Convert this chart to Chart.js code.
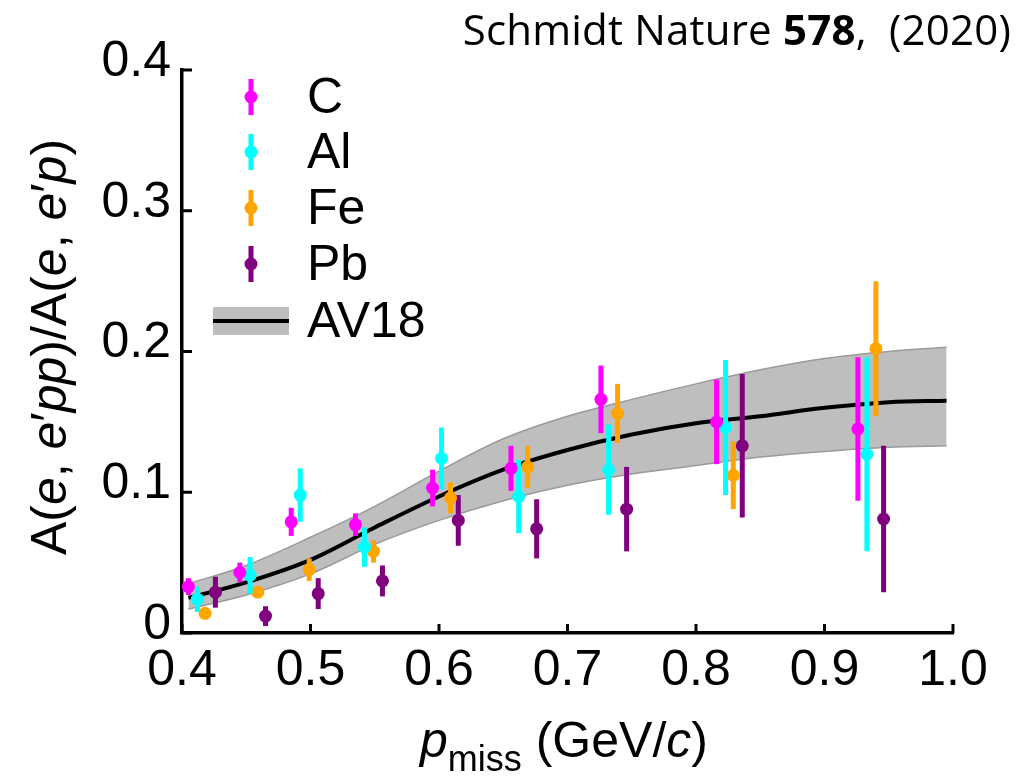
<!DOCTYPE html>
<html>
<head>
<meta charset="utf-8">
<script src="https://cdn.jsdelivr.net/npm/chart.js@4.4.1/dist/chart.umd.min.js"></script>
<style>
  html, body { margin: 0; padding: 0; background: #fff; }
  #wrap { position: relative; width: 1027px; height: 781px; }
  #cite {
    position: absolute; right: 16px; top: 0px;
    font-family: "Open Sans", sans-serif; font-size: 42px; color: #000;
    white-space: pre; letter-spacing: 0.2px;
  }
</style>
</head>
<body>
<div id="wrap">
  <canvas id="chartCanvas"></canvas>
  <div id="cite">Schmidt Nature <b>578</b>,  (2020)</div>
</div>
<script>
// values (p_miss in GeV/c, ratio pp/p)
const cX   = [0.405, 0.445, 0.485, 0.535, 0.595, 0.656, 0.726, 0.816, 0.926];
const cY   = [0.033, 0.043, 0.079, 0.077, 0.103, 0.117, 0.166, 0.150, 0.145];
const cErr = [0.006, 0.007, 0.010, 0.008, 0.013, 0.016, 0.024, 0.030, 0.051];

const alX   = [0.412, 0.453, 0.492, 0.542, 0.602, 0.662, 0.732, 0.823, 0.933];
const alY   = [0.024, 0.041, 0.098, 0.061, 0.124, 0.097, 0.116, 0.146, 0.127];
const alErr = [0.009, 0.013, 0.019, 0.014, 0.022, 0.026, 0.032, 0.048, 0.069];

const feX   = [0.418, 0.459, 0.499, 0.549, 0.609, 0.669, 0.739, 0.829, 0.940];
const feY   = [0.014, 0.029, 0.045, 0.058, 0.096, 0.118, 0.156, 0.112, 0.202];
const feErr = [0.003, 0.004, 0.008, 0.008, 0.011, 0.015, 0.021, 0.024, 0.048];

const pbX   = [0.426, 0.465, 0.506, 0.556, 0.615, 0.676, 0.746, 0.836, 0.946];
const pbY   = [0.029, 0.012, 0.028, 0.037, 0.080, 0.074, 0.088, 0.133, 0.081];
const pbErr = [0.011, 0.007, 0.011, 0.011, 0.018, 0.021, 0.030, 0.051, 0.052];

// AV18 calculation: central line and band
const av18X     = [0.405, 0.45, 0.50, 0.55, 0.60, 0.65, 0.70, 0.75, 0.80, 0.85, 0.90, 0.95, 0.995];
const av18Line  = [0.025, 0.036, 0.052, 0.075, 0.097, 0.116, 0.130, 0.141, 0.149, 0.154, 0.160, 0.164, 0.165];
const av18Upper = [0.035, 0.048, 0.068, 0.090, 0.115, 0.138, 0.154, 0.166, 0.177, 0.187, 0.195, 0.200, 0.203];
const av18Lower = [0.017, 0.027, 0.042, 0.063, 0.080, 0.094, 0.105, 0.113, 0.119, 0.125, 0.129, 0.132, 0.133];

const xTicks = [0.4, 0.5, 0.6, 0.7, 0.8, 0.9, 1.0];
const xTickLabels = ["0.4", "0.5", "0.6", "0.7", "0.8", "0.9", "1.0"];
const yTicks = [0, 0.1, 0.2, 0.3, 0.4];
const yTickLabels = ["0", "0.1", "0.2", "0.3", "0.4"];

const seriesNames = ["C", "Al", "Fe", "Pb"];
const seriesColors = ["#ff00ff", "#00ffff", "#ffa500", "#800080"];

const FONT = "'Liberation Sans', Arial, sans-serif";

const pts = (xs, ys) => xs.map((x, i) => ({ x: x, y: ys[i] }));

function pointSet(name, color, xs, ys, errs) {
  return {
    label: name,
    data: pts(xs, ys),
    errors: errs,
    showLine: false,
    pointRadius: 6.5,
    pointBackgroundColor: color,
    pointBorderWidth: 0,
    borderColor: color,
    order: 1,
  };
}

// error bars, drawn just under each series' markers
const errorBars = {
  id: "errorBars",
  beforeDatasetDraw(chart, args) {
    const ds = chart.data.datasets[args.index];
    if (!ds.errors) return;
    const ctx = chart.ctx;
    const ys = chart.scales.y;
    ctx.save();
    ctx.strokeStyle = ds.borderColor;
    ctx.lineWidth = 5;
    args.meta.data.forEach((el, i) => {
      const v = ds.data[i].y, e = ds.errors[i];
      ctx.beginPath();
      ctx.moveTo(el.x, ys.getPixelForValue(v - e));
      ctx.lineTo(el.x, ys.getPixelForValue(v + e));
      ctx.stroke();
    });
    ctx.restore();
  },
};

// inward tick marks, axis titles and legend
const decorations = {
  id: "decorations",
  afterDraw(chart) {
    const ctx = chart.ctx;
    const xs = chart.scales.x, ys = chart.scales.y;
    const area = chart.chartArea;
    ctx.save();
    ctx.strokeStyle = "#000";
    ctx.lineWidth = 3;
    xTicks.forEach(v => {
      const px = xs.getPixelForValue(v);
      ctx.beginPath();
      ctx.moveTo(px, area.bottom);
      ctx.lineTo(px, area.bottom - 9);
      ctx.stroke();
    });
    yTicks.forEach(v => {
      const py = ys.getPixelForValue(v);
      ctx.beginPath();
      ctx.moveTo(area.left, py);
      ctx.lineTo(area.left + 10, py);
      ctx.stroke();
    });

    ctx.fillStyle = "#000";
    ctx.textBaseline = "alphabetic";

    // y title, mixed upright / italic
    const yParts = [
      ["A(", false], ["e", true], [", ", false], ["e", true], ["\u2032", false], ["pp", true],
      [")/A(", false], ["e", true], [", ", false], ["e", true], ["\u2032", false], ["p", true], [")", false],
    ];
    const fontFor = it => (it ? "italic " : "") + "50px " + FONT;
    let total = 0;
    yParts.forEach(p => { ctx.font = fontFor(p[1]); total += ctx.measureText(p[0]).width; });
    ctx.save();
    ctx.translate(66, 347);
    ctx.rotate(-Math.PI / 2);
    let cx = -total / 2;
    yParts.forEach(p => {
      ctx.font = fontFor(p[1]);
      ctx.fillText(p[0], cx, 0);
      cx += ctx.measureText(p[0]).width;
    });
    ctx.restore();

    // x title: p_miss (GeV/c)
    const xParts = [
      ["p", "italic 50px " + FONT, 0], ["miss", "36px " + FONT, 14],
      [" (GeV/", "50px " + FONT, 0], ["c", "italic 50px " + FONT, 0], [")", "50px " + FONT, 0],
    ];
    total = 0;
    xParts.forEach(p => { ctx.font = p[1]; total += ctx.measureText(p[0]).width; });
    cx = 564 - total / 2;
    xParts.forEach(p => {
      ctx.font = p[1];
      ctx.fillText(p[0], cx, 757 + p[2]);
      cx += ctx.measureText(p[0]).width;
    });

    // legend
    const rowY = [97, 152, 208, 264];
    seriesNames.forEach((name, i) => {
      const y = rowY[i];
      ctx.strokeStyle = seriesColors[i];
      ctx.lineWidth = 5;
      ctx.beginPath();
      ctx.moveTo(251, y - 18);
      ctx.lineTo(251, y + 18);
      ctx.stroke();
      ctx.fillStyle = seriesColors[i];
      ctx.beginPath();
      ctx.arc(251, y, 6.5, 0, Math.PI * 2);
      ctx.fill();
      ctx.fillStyle = "#000";
      ctx.font = "50px " + FONT;
      ctx.textBaseline = "middle";
      ctx.fillText(name, 307, y + 2);
    });
    ctx.fillStyle = "#bebebe";
    ctx.fillRect(213, 307, 76, 28);
    ctx.strokeStyle = "#000";
    ctx.lineWidth = 4;
    ctx.beginPath();
    ctx.moveTo(213, 321);
    ctx.lineTo(289, 321);
    ctx.stroke();
    ctx.fillStyle = "#000";
    ctx.fillText("AV18", 307, 323);
    ctx.restore();
  },
};

const data = {
  datasets: [
    {
      label: "AV18 lower",
      data: pts(av18X, av18Lower),
      showLine: true,
      pointRadius: 0,
      borderColor: "#9a9a9a",
      borderWidth: 1.5,
      cubicInterpolationMode: "monotone",
      fill: false,
      order: 3,
    },
    {
      label: "AV18 upper",
      data: pts(av18X, av18Upper),
      showLine: true,
      pointRadius: 0,
      borderColor: "#9a9a9a",
      borderWidth: 1.5,
      backgroundColor: "#bebebe",
      cubicInterpolationMode: "monotone",
      fill: "-1",
      order: 3,
    },
    {
      label: "AV18",
      data: pts(av18X, av18Line),
      showLine: true,
      pointRadius: 0,
      borderColor: "#000",
      borderWidth: 4,
      cubicInterpolationMode: "monotone",
      fill: false,
      order: 2,
    },
    pointSet(seriesNames[0], seriesColors[0], cX, cY, cErr),
    pointSet(seriesNames[1], seriesColors[1], alX, alY, alErr),
    pointSet(seriesNames[2], seriesColors[2], feX, feY, feErr),
    pointSet(seriesNames[3], seriesColors[3], pbX, pbY, pbErr),
  ],
};

const config = {
  type: "scatter",
  data: data,
  options: {
    responsive: true,
    maintainAspectRatio: false,
    animation: false,
    layout: { padding: { left: 0, right: 74, top: 70, bottom: 0 } },
    plugins: {
      legend: { display: false },
      tooltip: { enabled: false },
    },
    scales: {
      x: {
        type: "linear",
        min: 0.4,
        max: 1.0,
        afterBuildTicks: s => { s.ticks = xTicks.map(v => ({ value: v })); },
        afterFit: s => { s.height = 148; },
        grid: { display: false, drawTicks: false },
        border: { display: true, color: "#000", width: 3.5 },
        ticks: {
          color: "#000",
          font: { family: FONT, size: 50 },
          padding: 8,
          maxRotation: 0,
          callback: (v, i) => xTickLabels[i],
        },
      },
      y: {
        type: "linear",
        min: 0,
        max: 0.4,
        afterBuildTicks: s => { s.ticks = yTicks.map(v => ({ value: v })); },
        afterFit: s => { s.width = 182; },
        grid: { display: false, drawTicks: false },
        border: { display: true, color: "#000", width: 3.5 },
        ticks: {
          color: "#000",
          font: { family: FONT, size: 50 },
          padding: 11,
          labelOffset: -8,
          callback: (v, i) => yTickLabels[i],
        },
      },
    },
  },
  plugins: [errorBars, decorations],
};

const canvas = document.getElementById("chartCanvas");
new Chart(canvas.getContext("2d"), config);
</script>
</body>
</html>
